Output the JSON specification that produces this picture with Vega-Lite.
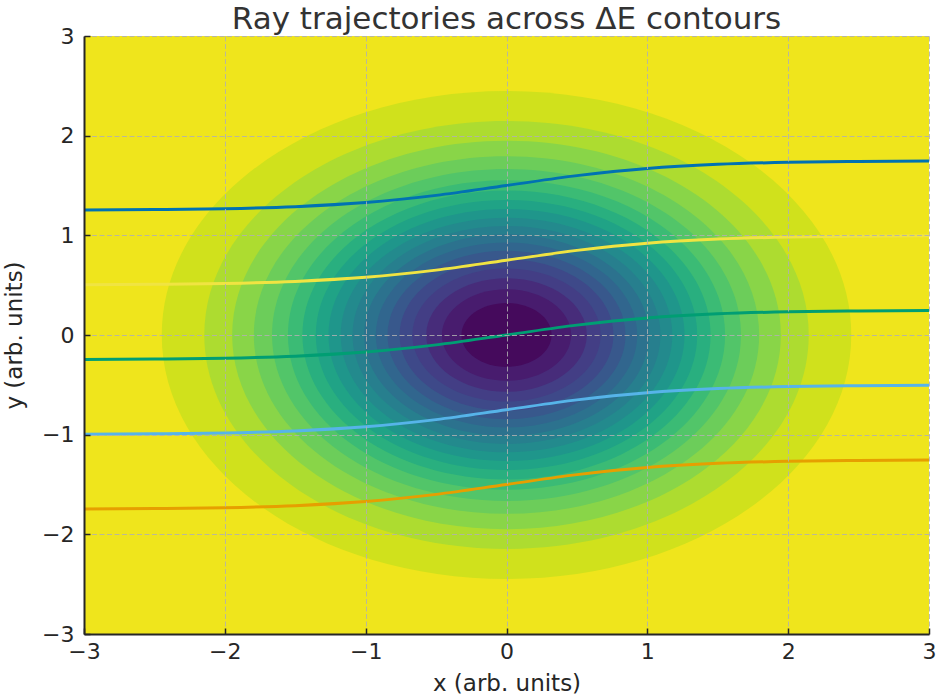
{
  "$schema": "https://vega.github.io/schema/vega-lite/v6.json",
  "width": 845,
  "height": 598,
  "autosize": {"type": "none"},
  "padding": {"left": 84, "top": 36, "right": 8, "bottom": 66},
  "background": "white",
  "title": {
    "text": "Ray trajectories across ΔE contours",
    "font": "DejaVu Sans",
    "fontSize": 31,
    "fontWeight": "normal",
    "color": "#333333",
    "anchor": "middle",
    "baseline": "alphabetic",
    "offset": -35
  },
  "config": {
    "view": {"fill": "#efe51c", "stroke": null},
    "axis": {
      "labelFont": "DejaVu Sans",
      "titleFont": "DejaVu Sans",
      "labelFontSize": 22,
      "titleFontSize": 23,
      "titleFontWeight": "normal",
      "labelColor": "#262626",
      "titleColor": "#262626",
      "domainColor": "#262626",
      "domainWidth": 2,
      "tickColor": "#262626",
      "tickWidth": 1.5,
      "tickSize": -6,
      "labelFlush": false,
      "labelOverlap": false,
      "grid": true,
      "gridColor": "#b0b0b0",
      "gridOpacity": 0.85,
      "gridWidth": 1,
      "gridDash": [5, 2.5],
      "zindex": 1
    }
  },
  "datasets": {
    "levels": [
      {"dE": 0.95, "r": 2.448, "x": 0, "y": 0},
      {"dE": 0.90, "r": 2.146, "x": 0, "y": 0},
      {"dE": 0.85, "r": 1.948, "x": 0, "y": 0},
      {"dE": 0.80, "r": 1.794, "x": 0, "y": 0},
      {"dE": 0.75, "r": 1.665, "x": 0, "y": 0},
      {"dE": 0.70, "r": 1.552, "x": 0, "y": 0},
      {"dE": 0.65, "r": 1.449, "x": 0, "y": 0},
      {"dE": 0.60, "r": 1.354, "x": 0, "y": 0},
      {"dE": 0.55, "r": 1.264, "x": 0, "y": 0},
      {"dE": 0.50, "r": 1.177, "x": 0, "y": 0},
      {"dE": 0.45, "r": 1.093, "x": 0, "y": 0},
      {"dE": 0.40, "r": 1.011, "x": 0, "y": 0},
      {"dE": 0.35, "r": 0.928, "x": 0, "y": 0},
      {"dE": 0.30, "r": 0.845, "x": 0, "y": 0},
      {"dE": 0.25, "r": 0.759, "x": 0, "y": 0},
      {"dE": 0.20, "r": 0.668, "x": 0, "y": 0},
      {"dE": 0.15, "r": 0.570, "x": 0, "y": 0},
      {"dE": 0.10, "r": 0.459, "x": 0, "y": 0},
      {"dE": 0.05, "r": 0.320, "x": 0, "y": 0}
    ],
    "rays": [
      {"ray": "a", "x": -3, "y": 1.253}, {"ray": "a", "x": -2.5, "y": 1.258}, {"ray": "a", "x": -2, "y": 1.267}, {"ray": "a", "x": -1.5, "y": 1.288}, {"ray": "a", "x": -1, "y": 1.329}, {"ray": "a", "x": -0.5, "y": 1.401}, {"ray": "a", "x": 0, "y": 1.5}, {"ray": "a", "x": 0.5, "y": 1.599}, {"ray": "a", "x": 1, "y": 1.671}, {"ray": "a", "x": 1.5, "y": 1.712}, {"ray": "a", "x": 2, "y": 1.733}, {"ray": "a", "x": 2.5, "y": 1.742}, {"ray": "a", "x": 3, "y": 1.747},
      {"ray": "b", "x": -3, "y": 0.503}, {"ray": "b", "x": -2.5, "y": 0.508}, {"ray": "b", "x": -2, "y": 0.517}, {"ray": "b", "x": -1.5, "y": 0.538}, {"ray": "b", "x": -1, "y": 0.579}, {"ray": "b", "x": -0.5, "y": 0.651}, {"ray": "b", "x": 0, "y": 0.75}, {"ray": "b", "x": 0.5, "y": 0.849}, {"ray": "b", "x": 1, "y": 0.921}, {"ray": "b", "x": 1.5, "y": 0.962}, {"ray": "b", "x": 2, "y": 0.983}, {"ray": "b", "x": 2.5, "y": 0.992}, {"ray": "b", "x": 3, "y": 0.997},
      {"ray": "c", "x": -3, "y": -0.247}, {"ray": "c", "x": -2.5, "y": -0.242}, {"ray": "c", "x": -2, "y": -0.233}, {"ray": "c", "x": -1.5, "y": -0.212}, {"ray": "c", "x": -1, "y": -0.171}, {"ray": "c", "x": -0.5, "y": -0.099}, {"ray": "c", "x": 0, "y": 0}, {"ray": "c", "x": 0.5, "y": 0.099}, {"ray": "c", "x": 1, "y": 0.171}, {"ray": "c", "x": 1.5, "y": 0.212}, {"ray": "c", "x": 2, "y": 0.233}, {"ray": "c", "x": 2.5, "y": 0.242}, {"ray": "c", "x": 3, "y": 0.247},
      {"ray": "d", "x": -3, "y": -0.997}, {"ray": "d", "x": -2.5, "y": -0.992}, {"ray": "d", "x": -2, "y": -0.983}, {"ray": "d", "x": -1.5, "y": -0.962}, {"ray": "d", "x": -1, "y": -0.921}, {"ray": "d", "x": -0.5, "y": -0.849}, {"ray": "d", "x": 0, "y": -0.75}, {"ray": "d", "x": 0.5, "y": -0.651}, {"ray": "d", "x": 1, "y": -0.579}, {"ray": "d", "x": 1.5, "y": -0.538}, {"ray": "d", "x": 2, "y": -0.517}, {"ray": "d", "x": 2.5, "y": -0.508}, {"ray": "d", "x": 3, "y": -0.503},
      {"ray": "e", "x": -3, "y": -1.747}, {"ray": "e", "x": -2.5, "y": -1.742}, {"ray": "e", "x": -2, "y": -1.733}, {"ray": "e", "x": -1.5, "y": -1.712}, {"ray": "e", "x": -1, "y": -1.671}, {"ray": "e", "x": -0.5, "y": -1.599}, {"ray": "e", "x": 0, "y": -1.5}, {"ray": "e", "x": 0.5, "y": -1.401}, {"ray": "e", "x": 1, "y": -1.329}, {"ray": "e", "x": 1.5, "y": -1.288}, {"ray": "e", "x": 2, "y": -1.267}, {"ray": "e", "x": 2.5, "y": -1.258}, {"ray": "e", "x": 3, "y": -1.253}
    ]
  },
  "encoding": {
    "x": {
      "field": "x", "type": "quantitative",
      "scale": {"domain": [-3, 3], "nice": false, "zero": false},
      "axis": {"values": [-3, -2, -1, 0, 1, 2, 3], "title": "x (arb. units)", "labelPadding": 13, "titlePadding": 10, "zindex": 1}
    },
    "y": {
      "field": "y", "type": "quantitative",
      "scale": {"domain": [-3, 3], "nice": false, "zero": false},
      "axis": {"values": [-3, -2, -1, 0, 1, 2, 3], "title": "y (arb. units)", "labelPadding": 16, "titlePadding": 15, "zindex": 1}
    }
  },
  "resolve": {"scale": {"color": "independent"}},
  "layer": [
    {
      "data": {"name": "levels"},
      "mark": {
        "type": "point",
        "filled": true,
        "opacity": 1,
        "strokeWidth": 0,
        "clip": true,
        "shape": "M 1 0 C 1 0.3908 0.5523 0.7077 0 0.7077 C -0.5523 0.7077 -1 0.3908 -1 0 C -1 -0.3908 -0.5523 -0.7077 0 -0.7077 C 0.5523 -0.7077 1 -0.3908 1 0 Z"
      },
      "encoding": {
        "size": {"field": "r", "type": "quantitative", "scale": {"type": "pow", "exponent": 2, "domain": [0, 3], "range": [0, 714025]}, "legend": null},
        "color": {
          "field": "dE", "type": "ordinal",
          "scale": {
            "domain": [0.05, 0.10, 0.15, 0.20, 0.25, 0.30, 0.35, 0.40, 0.45, 0.50, 0.55, 0.60, 0.65, 0.70, 0.75, 0.80, 0.85, 0.90, 0.95],
            "range": ["#450a5c", "#481c6e", "#472c7a", "#433e85", "#3e4989", "#38588c", "#31668e", "#2c728e", "#277f8e", "#238a8d", "#1f968b", "#20a386", "#29af7f", "#3bbb75", "#52c569", "#6ccd5a", "#89d548", "#addc30", "#d0e11c"]
          },
          "legend": null
        },
        "order": {"field": "r", "type": "quantitative", "sort": "descending"}
      }
    },
    {
      "data": {"name": "rays"},
      "mark": {"type": "line", "strokeWidth": 3, "interpolate": "monotone", "zindex": 2},
      "encoding": {
        "color": {
          "field": "ray", "type": "nominal",
          "scale": {"domain": ["a", "b", "c", "d", "e"], "range": ["#0072B2", "#F0E442", "#009E73", "#56B4E9", "#E69F00"]},
          "legend": null
        },
        "order": {"field": "x", "type": "quantitative"}
      }
    }
  ]
}
